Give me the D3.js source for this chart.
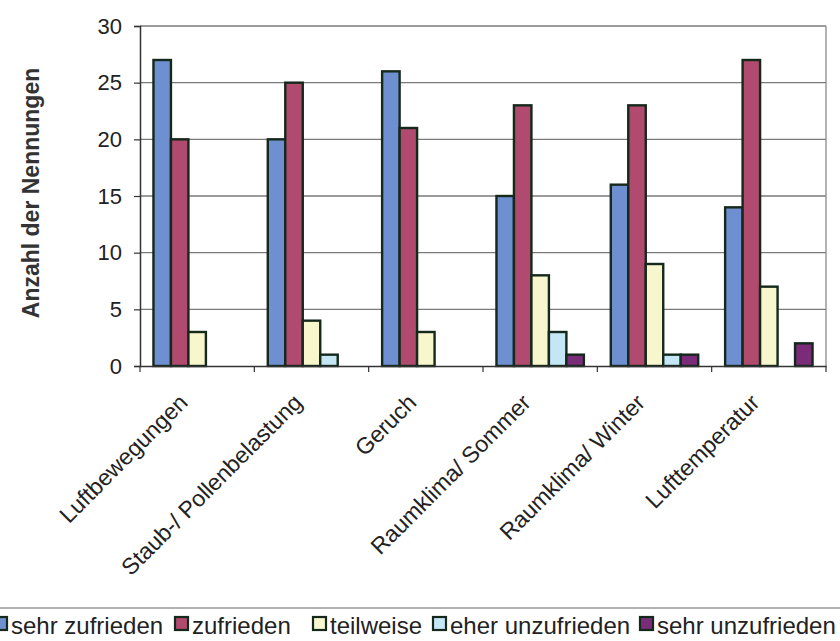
<!DOCTYPE html>
<html><head><meta charset="utf-8">
<script src="https://cdn.jsdelivr.net/npm/d3@7"></script>
<style>body{margin:0;background:#fff;}svg{display:block;}</style>
</head><body>
<svg id="c" width="840" height="641"></svg>
<script>
const categories = ["Luftbewegungen","Staub-/ Pollenbelastung","Geruch","Raumklima/ Sommer","Raumklima/ Winter","Lufttemperatur"];
const seriesNames = ["sehr zufrieden","zufrieden","teilweise","eher unzufrieden","sehr unzufrieden"];
const sehrZufrieden   = [27,20,26,15,16,14];
const zufrieden       = [20,25,21,23,23,27];
const teilweise       = [3,4,3,8,9,7];
const eherUnzufrieden = [0,1,0,3,1,0];
const sehrUnzufrieden = [0,0,0,1,1,2];
const yTicks = [0,5,10,15,20,25,30];
const colors = ["#6e8fd0","#b04a6e","#f8f6cc","#c5e6f5","#7b2c78"];

const seriesValues = [sehrZufrieden,zufrieden,teilweise,eherUnzufrieden,sehrUnzufrieden];
const svg = d3.select("#c");
const L=140,R=826,T=26,B=366;
const x0 = d3.scaleBand().domain(categories).range([L,R]).padding(0);
const x1 = d3.scaleBand().domain(seriesNames).range([0,x0.bandwidth()]).paddingInner(0).paddingOuter(0.77);
const y = d3.scaleLinear().domain([0,30]).range([B,T]);
const font = "'Liberation Sans', Arial, sans-serif";

// gridlines
svg.append("g").selectAll("line").data(yTicks.filter(d=>d>0)).join("line")
  .attr("x1",L).attr("x2",R).attr("y1",d=>y(d)).attr("y2",d=>y(d))
  .attr("stroke","#7a7a7a").attr("stroke-width",1.3);
// right border
svg.append("line").attr("x1",R).attr("x2",R).attr("y1",T).attr("y2",B).attr("stroke","#8a8a8a").attr("stroke-width",1.3);

// bars
const data = [];
categories.forEach((c,i)=>seriesNames.forEach((s,j)=>{ if(seriesValues[j][i]>0) data.push({c,s,v:seriesValues[j][i],j}); }));
svg.append("g").selectAll("rect").data(data).join("rect")
  .attr("x",d=>x0(d.c)+x1(d.s)).attr("width",x1.bandwidth())
  .attr("y",d=>y(d.v)).attr("height",d=>B-y(d.v))
  .attr("fill",d=>colors[d.j]).attr("stroke","#15281c").attr("stroke-width",2.4);

// y axis
const ya = svg.append("g").attr("transform",`translate(${L},0)`)
  .call(d3.axisLeft(y).tickValues(yTicks).tickSize(6).tickPadding(12));
ya.select(".domain").attr("stroke","#333").attr("stroke-width",1.5);
ya.selectAll(".tick line").attr("stroke","#333").attr("stroke-width",1.2);
ya.selectAll("text").attr("font-family",font).attr("font-size",22).attr("fill","#222");

// x axis
const xa = svg.append("g").attr("transform",`translate(0,${B})`)
  .call(d3.axisBottom(x0).tickSize(0).tickFormat(""));
xa.select(".domain").attr("stroke","#333").attr("stroke-width",1.5);
svg.append("g").selectAll("line").data(categories.map(c=>x0(c)).concat([R])).join("line")
  .attr("x1",d=>d).attr("x2",d=>d).attr("y1",B).attr("y2",B+6).attr("stroke","#333").attr("stroke-width",1.2);
svg.append("g").selectAll("text").data(categories).join("text")
  .attr("transform",d=>`translate(${x0(d)+x0.bandwidth()/2-8},${B+38}) rotate(-45)`)
  .attr("text-anchor","end").attr("font-family",font).attr("font-size",23).attr("fill","#222")
  .text(d=>d);

// y title
svg.append("text").attr("transform","translate(39,193) rotate(-90)")
  .attr("text-anchor","middle").attr("font-family",font).attr("font-size",23).attr("font-weight","bold").attr("fill","#333")
  .text("Anzahl der Nennungen");

// legend
svg.append("line").attr("x1",0).attr("x2",840).attr("y1",608).attr("y2",608).attr("stroke","#999").attr("stroke-width",1.5);
const legX = [-6,175,313,433,640];
const lg = svg.append("g").selectAll("g").data(seriesNames).join("g")
  .attr("transform",(d,i)=>`translate(${legX[i]},0)`);
lg.append("rect").attr("x",0).attr("y",617).attr("width",13).attr("height",13)
  .attr("fill",(d,i)=>colors[i]).attr("stroke","#15281c").attr("stroke-width",2.2);
lg.append("text").attr("x",17).attr("y",634).attr("font-family",font).attr("font-size",24).attr("fill","#222").text(d=>d);
</script>
</body></html>
